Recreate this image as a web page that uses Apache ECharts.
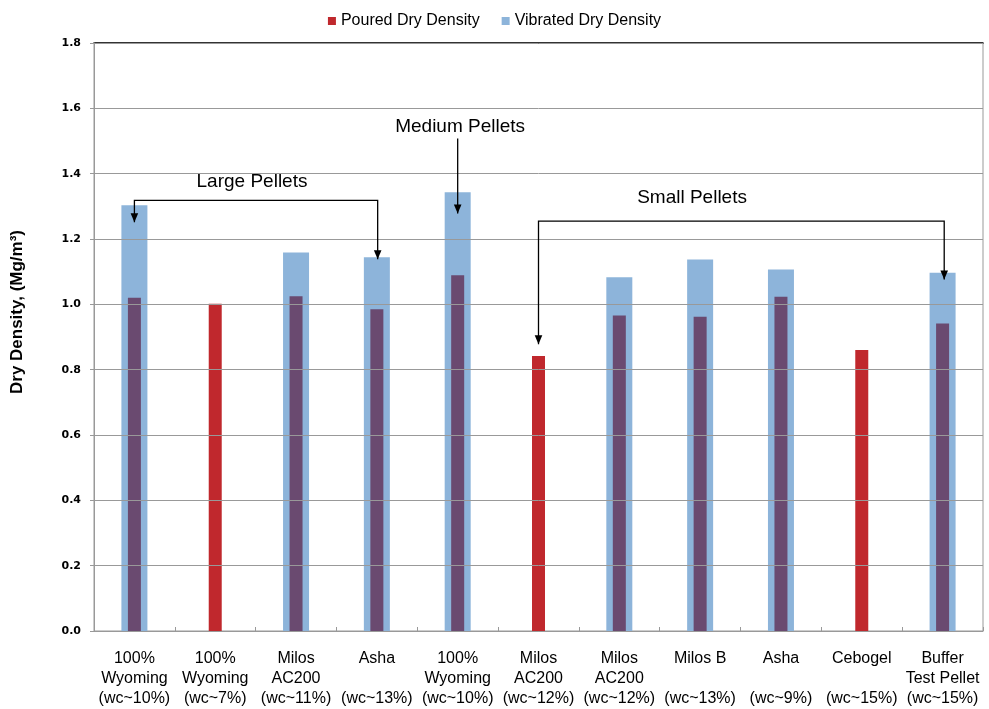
<!DOCTYPE html>
<html>
<head>
<meta charset="utf-8">
<script src="https://cdn.jsdelivr.net/npm/echarts@6/dist/echarts.min.js"></script>
<style>html,body{margin:0;padding:0;background:#fff}#c{width:989px;height:709px}</style>
</head>
<body>
<div id="c"></div>
<script>
const categories = [
  '100%\nWyoming\n(wc~10%)', '100%\nWyoming\n(wc~7%)', 'Milos\nAC200\n(wc~11%)', 'Asha\n\n(wc~13%)',
  '100%\nWyoming\n(wc~10%)', 'Milos\nAC200\n(wc~12%)', 'Milos\nAC200\n(wc~12%)', 'Milos B\n\n(wc~13%)',
  'Asha\n\n(wc~9%)', 'Cebogel\n\n(wc~15%)', 'Buffer\nTest Pellet\n(wc~15%)'
];
const pouredDensity   = [1.020, 1.002, 1.025, 0.985, 1.089, 0.842, 0.966, 0.962, 1.023, 0.860, 0.941];
const vibratedDensity = [1.303, null, 1.159, 1.144, 1.343, null, 1.083, 1.137, 1.107, null, 1.097];
const yTicks = { min: 0, max: 1.8, interval: 0.2 };
const seriesNames = ['Poured Dry Density', 'Vibrated Dry Density'];

// annotations (data coordinates: category index, value)
const annoTexts = ['Large Pellets', 'Medium Pellets', 'Small Pellets'];
const annoTextPos = [[1.455, 1.374], [4.03, 1.544], [6.90, 1.327]];
const annoPaths = [
  [[0, 1.251], [0, 1.318], [3.01, 1.318], [3.01, 1.138]],
  [[4.0, 1.508], [4.0, 1.278]],
  [[5.0, 0.878], [5.0, 1.255], [10.02, 1.255], [10.02, 1.076]]
];
const annoArrowStart = [true, false, true];

const RED = '#C0282D', BLUE = '#8DB4DA', PURPLE = '#6A4A70';

const chart = echarts.init(document.getElementById('c'));
const pouredData = pouredDensity.map((v, i) => ({
  value: v,
  itemStyle: { color: vibratedDensity[i] != null ? PURPLE : RED }
}));

chart.setOption({
  animation: false,
  legend: {
    data: seriesNames,
    top: 8, left: 'center',
    itemWidth: 8, itemHeight: 8, itemGap: 22,
    icon: 'rect',
    textStyle: { fontFamily: 'Liberation Sans', fontSize: 16, color: '#000' }
  },
  grid: { left: 94, right: 6, top: 43, bottom: 77, show: true, borderColor: '#999', borderWidth: 1 },
  xAxis: [
    {
      type: 'category', data: categories, position: 'bottom',
      axisLine: { lineStyle: { color: '#999', width: 1 } },
      axisTick: { show: true, inside: true, length: 4, lineStyle: { color: '#999' } },
      axisLabel: { interval: 0, color: '#000', fontFamily: 'Liberation Sans', fontSize: 16, lineHeight: 20, margin: 18 }
    },
    {
      type: 'category', data: categories, position: 'top',
      axisLine: { lineStyle: { color: '#000', width: 1.5 } },
      axisTick: { show: false }, axisLabel: { show: false }
    }
  ],
  yAxis: {
    type: 'value', min: yTicks.min, max: yTicks.max, interval: yTicks.interval, z: 3,
    name: 'Dry Density, (Mg/m³)', nameLocation: 'middle', nameGap: 68, nameRotate: 90,
    nameTextStyle: { fontFamily: 'Liberation Sans', fontWeight: 'bold', fontSize: 17, color: '#000', padding: [0, 0, 0, 50] },
    axisLine: { show: true, lineStyle: { color: '#999' } },
    axisTick: { show: true, length: 4, lineStyle: { color: '#999' } },
    splitLine: { lineStyle: { color: '#999', width: 1 } },
    axisLabel: { formatter: v => v.toFixed(1), fontFamily: 'DejaVu Sans', fontWeight: 'bold', fontSize: 11, color: '#000', margin: 13 }
  },
  series: [
    {
      name: seriesNames[1], type: 'bar', xAxisIndex: 0, data: vibratedDensity,
      barWidth: 26, itemStyle: { color: BLUE }, z: 2
    },
    {
      name: seriesNames[0], type: 'bar', xAxisIndex: 1, data: pouredData,
      barWidth: 13, itemStyle: { color: RED }, z: 2.5
    }
  ]
});

function px(c, v) {
  const i0 = Math.max(0, Math.min(categories.length - 2, Math.floor(c)));
  const a = chart.convertToPixel({ gridIndex: 0 }, [i0, v]);
  const b = chart.convertToPixel({ gridIndex: 0 }, [i0 + 1, v]);
  const t = c - i0;
  return [a[0] + (b[0] - a[0]) * t, a[1]];
}
function arrowHead(tip, from) {
  const dx = tip[0] - from[0], dy = tip[1] - from[1];
  const len = Math.hypot(dx, dy) || 1;
  const ux = dx / len, uy = dy / len;
  const L = 9, W = 3.8;
  const bx = tip[0] - ux * L, by = tip[1] - uy * L;
  return {
    type: 'polygon', z: 100,
    shape: { points: [tip, [bx - uy * W, by + ux * W], [bx + uy * W, by - ux * W]] },
    style: { fill: '#000' }
  };
}
const graphics = [];
annoTexts.forEach((t, k) => {
  const p = px(annoTextPos[k][0], annoTextPos[k][1]);
  graphics.push({
    type: 'text', x: p[0], y: p[1], z: 100,
    style: { text: t, fontFamily: 'Liberation Sans', fontSize: 19, fill: '#000', align: 'center', verticalAlign: 'middle' }
  });
  const pts = annoPaths[k].map(q => px(q[0], q[1]));
  graphics.push({ type: 'polyline', z: 100, shape: { points: pts }, style: { stroke: '#000', lineWidth: 1.3, fill: null } });
  const n = pts.length;
  graphics.push(arrowHead(pts[n - 1], pts[n - 2]));
  if (annoArrowStart[k]) graphics.push(arrowHead(pts[0], pts[1]));
});
chart.setOption({ graphic: graphics });
</script>
</body>
</html>
